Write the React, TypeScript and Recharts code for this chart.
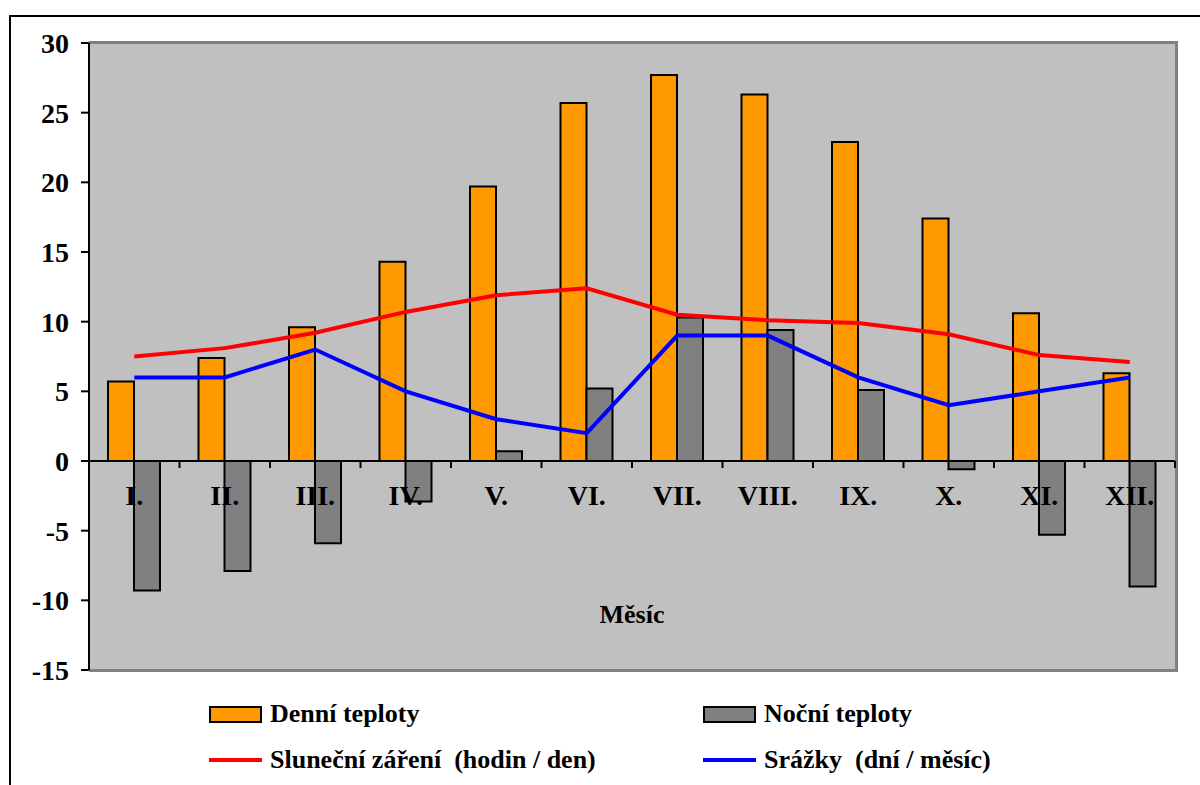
import React from "react";
import { ComposedChart, Bar, Line, XAxis, YAxis, ReferenceLine } from "recharts";

const months = ["I.", "II.", "III.", "IV.", "V.", "VI.", "VII.", "VIII.", "IX.", "X.", "XI.", "XII."];
const dayTemps = [5.7, 7.4, 9.6, 14.3, 19.7, 25.7, 27.7, 26.3, 22.9, 17.4, 10.6, 6.3];
const nightTemps = [-9.3, -7.9, -5.9, -2.9, 0.7, 5.2, 10.3, 9.4, 5.1, -0.6, -5.3, -9.0];
const sunshine = [7.5, 8.1, 9.2, 10.7, 11.9, 12.4, 10.5, 10.1, 9.9, 9.1, 7.6, 7.1];
const rainDays = [6, 6, 8, 5, 3, 2, 9, 9, 6, 4, 5, 6];
const yTicks = [-15, -10, -5, 0, 5, 10, 15, 20, 25, 30];

const seriesNames = {
  day: "Denní teploty",
  night: "Noční teploty",
  sun: "Sluneční záření  (hodin / den)",
  rain: "Srážky  (dní / měsíc)",
};
const xTitle = "Měsíc";

const data = months.map((m, i) => ({
  month: m,
  day: dayTemps[i],
  night: nightTemps[i],
  sun: sunshine[i],
  rain: rainDays[i],
}));

const W = 1200;
const H = 785;
const M = { top: 43, right: 25, left: 0, bottom: 85 };
const YAXIS_W = 89;
const XAXIS_H = 30;
const PLOT_L = M.left + YAXIS_W;
const PLOT_W = W - M.right - PLOT_L;
const PLOT_H = H - M.top - M.bottom - XAXIS_H;
const Y_MIN = -15;
const Y_MAX = 30;
const ZERO_Y = M.top + (PLOT_H * (Y_MAX - 0)) / (Y_MAX - Y_MIN);
const BAND = PLOT_W / months.length;

const FONT = "Liberation Serif, DejaVu Serif, serif";

const MonthTick = (props: any) => {
  const { x, payload } = props;
  return (
    <g>
      <line x1={x + BAND / 2} y1={ZERO_Y} x2={x + BAND / 2} y2={ZERO_Y + 7} stroke="#000" strokeWidth={2} />
      <text
        x={x}
        y={ZERO_Y + 44}
        textAnchor="middle"
        style={{ fontFamily: FONT, fontWeight: "bold", fontSize: 28 }}
        fill="#000"
      >
        {payload.value}
      </text>
    </g>
  );
};

const legendItems = [
  { name: seriesNames.day, kind: "bar", color: "#FF9900", left: 209, top: 701 },
  { name: seriesNames.night, kind: "bar", color: "#808080", left: 703, top: 701 },
  { name: seriesNames.sun, kind: "line", color: "#FF0000", left: 209, top: 747 },
  { name: seriesNames.rain, kind: "line", color: "#0000FF", left: 703, top: 747 },
];

export default function App() {
  return (
    <div style={{ position: "absolute", left: 0, top: 0, width: W, height: H, overflow: "hidden", background: "#fff" }}>
      <div
        style={{
          position: "absolute",
          left: 9,
          top: 15,
          width: 1300,
          height: 900,
          border: "2px solid #000",
          boxSizing: "border-box",
        }}
      />
      <div
        style={{
          position: "absolute",
          left: PLOT_L,
          top: M.top - 2,
          width: PLOT_W + 3,
          height: PLOT_H + 4,
          background: "#C0C0C0",
          borderTop: "3px solid #808080",
          borderRight: "3px solid #808080",
          borderBottom: "3px solid #808080",
          boxSizing: "border-box",
        }}
      />
      <div style={{ position: "absolute", left: 0, top: 0 }}>
        <ComposedChart width={W} height={H} data={data} margin={M} barGap={0} barSize={26}>
          <XAxis
            dataKey="month"
            height={XAXIS_H}
            axisLine={false}
            tickLine={false}
            tick={<MonthTick />}
            interval={0}
          />
          <YAxis
            width={YAXIS_W}
            domain={[Y_MIN, Y_MAX]}
            ticks={yTicks}
            interval={0}
            axisLine={{ stroke: "#000", strokeWidth: 2 }}
            tickLine={{ stroke: "#000", strokeWidth: 2 }}
            tickSize={8}
            tickMargin={12}
            tick={{ style: { fontFamily: FONT, fontWeight: "bold", fontSize: 28 }, fill: "#000" }}
          />
          <ReferenceLine y={0} stroke="#000" strokeWidth={2} ifOverflow="extendDomain" />
          <Bar dataKey="day" name={seriesNames.day} fill="#FF9900" stroke="#000" strokeWidth={2} isAnimationActive={false} />
          <Bar dataKey="night" name={seriesNames.night} fill="#808080" stroke="#000" strokeWidth={2} isAnimationActive={false} />
          <Line dataKey="sun" name={seriesNames.sun} type="linear" stroke="#FF0000" strokeWidth={4} dot={false} isAnimationActive={false} />
          <Line dataKey="rain" name={seriesNames.rain} type="linear" stroke="#0000FF" strokeWidth={4} dot={false} isAnimationActive={false} />
        </ComposedChart>
      </div>
      <div
        style={{
          position: "absolute",
          left: PLOT_L,
          width: PLOT_W,
          top: 600,
          textAlign: "center",
          fontFamily: FONT,
          fontWeight: "bold",
          fontSize: 26,
          color: "#000",
        }}
      >
        {xTitle}
      </div>
      {legendItems.map((it) => (
        <div
          key={it.name}
          style={{
            position: "absolute",
            left: it.left,
            top: it.top,
            display: "flex",
            alignItems: "center",
            height: 26,
            fontFamily: FONT,
            fontWeight: "bold",
            fontSize: 26,
            color: "#000",
            whiteSpace: "pre",
          }}
        >
          {it.kind === "bar" ? (
            <div style={{ width: 53, height: 17, background: it.color, border: "2px solid #000", boxSizing: "border-box" }} />
          ) : (
            <div style={{ width: 53, height: 4, background: it.color }} />
          )}
          <span style={{ marginLeft: 8 }}>{it.name}</span>
        </div>
      ))}
    </div>
  );
}
